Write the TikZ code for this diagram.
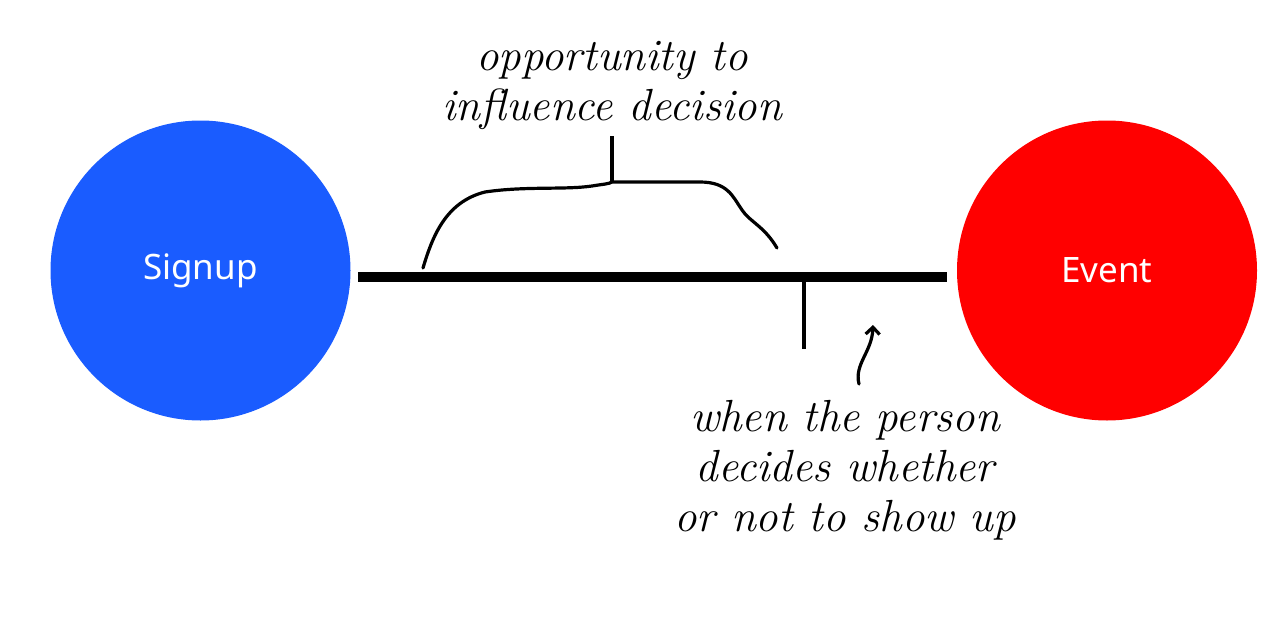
\documentclass[tikz,border=0pt]{standalone}
\usepackage{fontspec}
\setsansfont{Noto Sans}
\usetikzlibrary{arrows.meta}
\definecolor{signupblue}{HTML}{1A5CFF}
\definecolor{eventred}{HTML}{FF0000}
\tikzset{
  stage/.style={circle, minimum size=300pt, inner sep=0pt, text=white,
    font=\sffamily\fontsize{35}{40}\selectfont},
  hand/.style={align=center, font=\itshape\fontsize{45}{50}\selectfont},
  pen/.style={line width=3.2pt, line cap=round, line join=round}
}
\begin{document}
\begin{tikzpicture}[x=1pt,y=-1pt]
 \useasboundingbox (0,0) rectangle (1272,642);
 % the two stages
 \node[stage, fill=signupblue] (signup) at (200.5,270.5) {Signup};
 \node[stage, fill=eventred] (event) at (1107,270.5) {Event};
 % timeline
 \coordinate (tstart) at (358,277);
 \coordinate (tend) at (947,277);
 \draw[line width=10pt] (tstart) -- (tend);
 % decision point
 \coordinate (tick) at (804,282);
 \coordinate (tickend) at (804,349);
 \draw[pen, line cap=butt] (tick) -- (tickend);
 % brace over the window
 \coordinate (bleft) at (423,268);
 \coordinate (bmid) at (612,182);
 \coordinate (bright) at (777,248);
 \coordinate (btop) at (612,136);
 \draw[pen] (bleft) .. controls (432,238) and (445,202) .. (485,192)
   .. controls (525,186) and (565,190) .. (592,186)
   .. controls (604,184) and (609,184) .. (bmid)
   -- (700,182)
   .. controls (728,182) and (733,197) .. (742,210)
   .. controls (750,222) and (764,226) .. (bright);
 \draw[pen, line cap=butt] (bmid) -- (btop);
 \node[hand] (window) at (612,85) {opportunity to\\influence decision};
 % pointer to the decision
 \coordinate (atail) at (859,384);
 \coordinate (ahead) at (873,325);
 \draw[pen, -{Straight Barb[length=7pt,width=14pt]}] (atail)
   .. controls (854,364) and (872,352) .. (ahead);
 \node[hand] (decide) at (845,470) {when the person\\decides whether\\or not to show up};
\end{tikzpicture}
\end{document}
